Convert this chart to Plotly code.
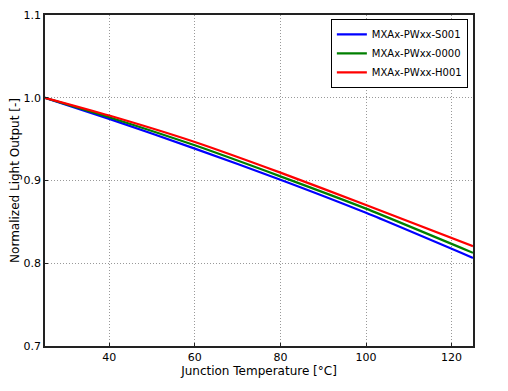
import plotly.graph_objects as go

temps = [25, 40, 60, 80, 100, 125]
s001 = [1.0, 0.9745, 0.9385, 0.9010, 0.8610, 0.8065]
p0000 = [1.0, 0.9765, 0.9425, 0.9050, 0.8660, 0.8126]
h001 = [1.0, 0.9785, 0.9465, 0.9095, 0.8705, 0.8207]

series = [("MXAx-PWxx-S001", s001, "#0000ff"),
          ("MXAx-PWxx-0000", p0000, "#007f00"),
          ("MXAx-PWxx-H001", h001, "#ff0000")]

x_ticks = [40, 60, 80, 100, 120]
y_ticks = [0.7, 0.8, 0.9, 1.0, 1.1]

fig = go.Figure()
for name, vals, col in series:
    fig.add_trace(go.Scatter(x=temps, y=vals, mode="lines", name=name,
                             line=dict(color=col, width=2.2, shape="spline", smoothing=0.6)))

font = "DejaVu Sans"
fig.update_layout(
    width=508, height=391,
    margin=dict(l=37, r=43, t=7, b=53, autoexpand=False),
    paper_bgcolor="white", plot_bgcolor="white",
    font=dict(family=font, size=11, color="black"),
    showlegend=True,
    legend=dict(x=0.988, y=0.988, xanchor="right", yanchor="top",
                bordercolor="black", borderwidth=1, bgcolor="white",
                font=dict(size=10, family=font), tracegroupgap=0,
                itemwidth=30),
)
grid = dict(showgrid=True, gridcolor="#999999", griddash="1px,2px", gridwidth=1,
            zeroline=False, showline=True, linecolor="#222222", linewidth=1.8,
            mirror=True, ticks="inside", ticklen=3, tickcolor="#222222")
fig.update_xaxes(range=[25, 125], tickvals=x_ticks, **grid,
                 title=dict(text="Junction Temperature [°C]", font=dict(size=12), standoff=1))
fig.update_yaxes(range=[0.7, 1.1], tickvals=y_ticks, tickformat=".1f", **grid,
                 title=dict(text="Normalized Light Output [-]", font=dict(size=12), standoff=8))

fig.write_html("out.html")
